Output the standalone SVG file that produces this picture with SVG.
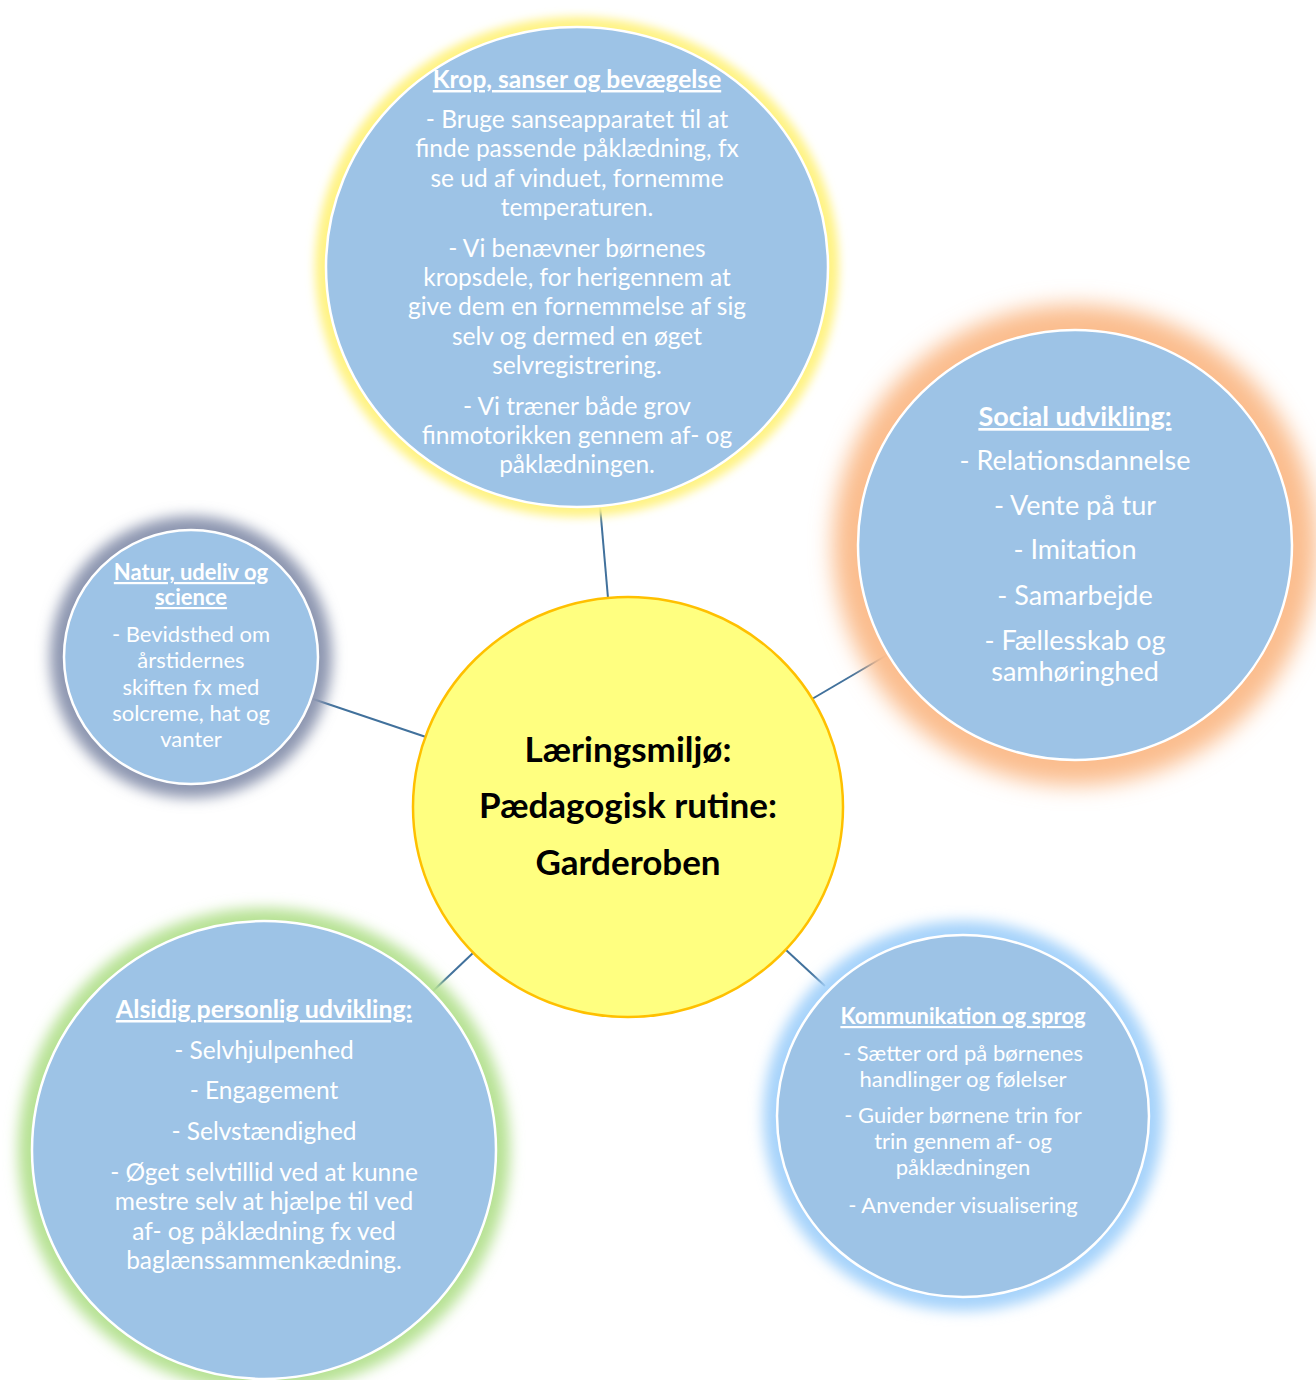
<svg xmlns="http://www.w3.org/2000/svg" width="1316" height="1380" viewBox="0 0 1316 1380">
<defs>
<filter id="g5" x="-20%" y="-20%" width="140%" height="140%"><feGaussianBlur stdDeviation="5"/></filter>
<filter id="g7" x="-20%" y="-20%" width="140%" height="140%"><feGaussianBlur stdDeviation="7"/></filter>
<filter id="g11" x="-20%" y="-20%" width="140%" height="140%"><feGaussianBlur stdDeviation="11"/></filter>
</defs>
<style>
.bub{fill:#9dc3e6;stroke:#ffffff;stroke-width:2.5}
.t{font-family:Lato,"Open Sans","Liberation Sans",sans-serif;fill:#ffffff;text-anchor:middle}
.h{font-weight:bold;text-decoration:underline}
.c{font-family:Lato,"Open Sans","Liberation Sans",sans-serif;fill:#000000;text-anchor:middle;font-weight:bold}
.ln{stroke:#41719c;stroke-width:2;fill:none}
</style>
<rect width="1316" height="1380" fill="#ffffff"/>
<g id="connectors">
<line class="ln" x1="600" y1="506" x2="608" y2="598"/>
<line class="ln" x1="887" y1="655" x2="812" y2="699"/>
<line class="ln" x1="313" y1="699" x2="426" y2="737"/>
<line class="ln" x1="433" y1="991" x2="473" y2="953"/>
<line class="ln" x1="786" y1="950" x2="825" y2="986"/>
</g>
<g id="krop">
<ellipse cx="577" cy="267" rx="262" ry="250" fill="#fff385" filter="url(#g5)"/>
<ellipse class="bub" cx="577" cy="267" rx="251" ry="240"/>
<g class="t" font-size="24.5">
<text class="h" x="577" y="88" font-size="24.5">Krop, sanser og bevægelse</text>
<text x="577" y="128">- Bruge sanseapparatet til at</text>
<text x="577" y="157">finde passende påklædning, fx</text>
<text x="577" y="187">se ud af vinduet, fornemme</text>
<text x="577" y="216">temperaturen.</text>
<text x="577" y="257">- Vi benævner børnenes</text>
<text x="577" y="286">kropsdele, for herigennem at</text>
<text x="577" y="315">give dem en fornemmelse af sig</text>
<text x="577" y="345">selv og dermed en øget</text>
<text x="577" y="374">selvregistrering.</text>
<text x="577" y="415">- Vi træner både grov</text>
<text x="577" y="444">finmotorikken gennem af- og</text>
<text x="577" y="473">påklædningen.</text>
</g>
</g>
<g id="social">
<ellipse cx="1075" cy="545" rx="242" ry="240" fill="#fbbd8e" filter="url(#g11)"/>
<ellipse class="bub" cx="1075" cy="545" rx="217" ry="215"/>
<g class="t" font-size="27">
<text class="h" x="1075" y="426">Social udvikling:</text>
<text x="1075" y="470">- Relationsdannelse</text>
<text x="1075" y="515">- Vente på tur</text>
<text x="1075" y="559">- Imitation</text>
<text x="1075" y="605">- Samarbejde</text>
<text x="1075" y="650">- Fællesskab og</text>
<text x="1075" y="681">samhøringhed</text>
</g>
</g>
<g id="natur">
<ellipse cx="191" cy="657" rx="141" ry="141" fill="#8d96b0" filter="url(#g7)"/>
<ellipse class="bub" cx="191" cy="657" rx="127" ry="127"/>
<g class="t" font-size="22">
<text class="h" x="191" y="580">Natur, udeliv og</text>
<text class="h" x="191" y="605">science</text>
<text x="191" y="642">- Bevidsthed om</text>
<text x="191" y="668">årstidernes</text>
<text x="191" y="695">skiften fx med</text>
<text x="191" y="721">solcreme, hat og</text>
<text x="191" y="747">vanter</text>
</g>
</g>
<g id="center">
<ellipse cx="628" cy="807" rx="215" ry="210" fill="#ffff80" stroke="#ffc000" stroke-width="2.5"/>
<g class="c" font-size="35">
<text x="628" y="762">Læringsmiljø:</text>
<text x="628" y="818">Pædagogisk rutine:</text>
<text x="628" y="875">Garderoben</text>
</g>
</g>
<g id="alsidig">
<ellipse cx="264" cy="1150" rx="246" ry="242" fill="#b7e294" filter="url(#g7)"/>
<ellipse class="bub" cx="264" cy="1150" rx="232" ry="229"/>
<g class="t" font-size="24.5">
<text class="h" x="264" y="1018" font-size="25">Alsidig personlig udvikling:</text>
<text x="264" y="1059">- Selvhjulpenhed</text>
<text x="264" y="1099">- Engagement</text>
<text x="264" y="1140">- Selvstændighed</text>
<text x="264" y="1181">- Øget selvtillid ved at kunne</text>
<text x="264" y="1210">mestre selv at hjælpe til ved</text>
<text x="264" y="1240">af- og påklædning fx ved</text>
<text x="264" y="1269">baglænssammenkædning.</text>
</g>
</g>
<g id="kommunikation">
<ellipse cx="963" cy="1116" rx="200" ry="195" fill="#a6d3fb" filter="url(#g7)"/>
<ellipse class="bub" cx="963" cy="1116" rx="186" ry="181"/>
<g class="t" font-size="22">
<text class="h" x="963" y="1024">Kommunikation og sprog</text>
<text x="963" y="1061">- Sætter ord på børnenes</text>
<text x="963" y="1087">handlinger og følelser</text>
<text x="963" y="1123">- Guider børnene trin for</text>
<text x="963" y="1149">trin gennem af- og</text>
<text x="963" y="1175">påklædningen</text>
<text x="963" y="1213">- Anvender visualisering</text>
</g>
</g>
</svg>
